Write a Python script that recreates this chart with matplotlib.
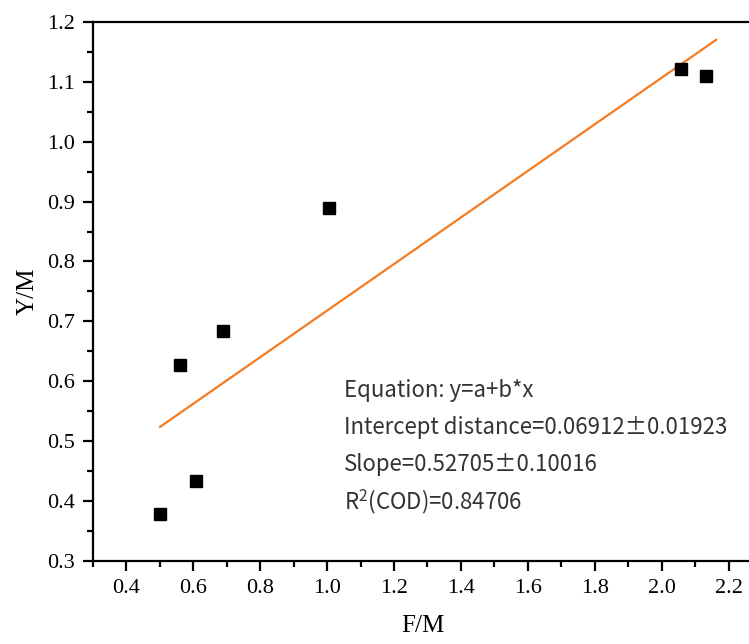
import matplotlib
matplotlib.use('Agg')
import matplotlib.pyplot as plt
from matplotlib.ticker import MultipleLocator, FormatStrFormatter
import numpy as np

# data
fm = [0.501, 0.609, 0.561, 0.690, 1.005, 2.058, 2.133]
ym = [0.378, 0.433, 0.627, 0.684, 0.889, 1.121, 1.110]

fit_lines = ['Equation: y=a+b*x',
             'Intercept distance=0.06912\u00b10.01923',
             'Slope=0.52705\u00b10.10016',
             'R$^{2}$(COD)=0.84706']

plt.rcParams['font.family'] = ['Liberation Serif', 'DejaVu Serif']
plt.rcParams['mathtext.fontset'] = 'custom'
plt.rcParams['mathtext.rm'] = 'Noto Sans CJK SC'

fig = plt.figure(figsize=(7.49, 6.44), dpi=100)
ax = fig.add_axes([0.124, 0.129, 0.88, 0.837])

ax.plot(fm, ym, 's', color='black', ms=8.5, zorder=3)

# linear fit over the data range
b, a = np.polyfit(fm, ym, 1)
xs = np.array([min(fm), max(fm) + 0.03])
ax.plot(xs, a + b * xs, color='#f47b20', lw=1.6, zorder=2)

ax.set_xlim(0.3, 2.27)
ax.set_ylim(0.3, 1.2)
ax.set_xticks(np.arange(0.4, 2.21, 0.2))
ax.xaxis.set_minor_locator(MultipleLocator(0.1))
ax.yaxis.set_major_locator(MultipleLocator(0.1))
ax.yaxis.set_minor_locator(MultipleLocator(0.05))
ax.xaxis.set_major_formatter(FormatStrFormatter('%.1f'))
ax.yaxis.set_major_formatter(FormatStrFormatter('%.1f'))

for s in ['left', 'bottom', 'top']:
    ax.spines[s].set_linewidth(1.6)
ax.spines['right'].set_visible(False)
ax.tick_params(which='major', direction='out', length=7, width=1.6, labelsize=16, pad=6)
ax.tick_params(which='minor', direction='out', length=4, width=1.6)
ax.tick_params(top=False, right=False, which='both')

ax.set_xlabel('F/M', fontsize=18, labelpad=12)
ax.set_ylabel('Y/M', fontsize=18, labelpad=6)

for i, t in enumerate(fit_lines):
    ax.text(1.05, 0.585 - i * 0.062, t, fontsize=16,
            family=['Noto Sans CJK SC', 'DejaVu Sans'], color='#333333', va='center')

fig.savefig('out.png', dpi=100)
